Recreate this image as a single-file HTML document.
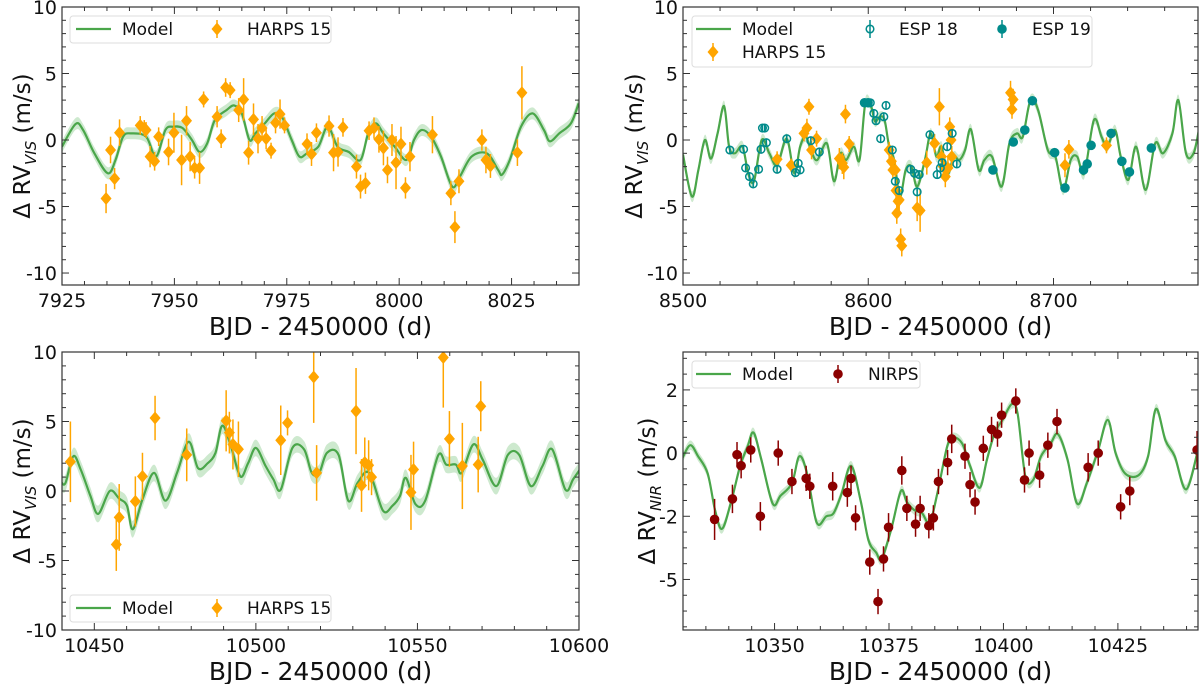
<!DOCTYPE html>
<html><head><meta charset="utf-8"><style>
html,body{margin:0;padding:0;background:#fff;}
svg{display:block;font-family:"DejaVu Sans","Liberation Sans",sans-serif;}
</style></head><body>
<svg id="fig" width="1200" height="684" viewBox="0 0 1200 684" xmlns="http://www.w3.org/2000/svg"></svg>
<script>
// ---------- Panel 1 data ----------
const p1ModelT=[7925,7928,7929.7,7932.2,7935.2,7936.9,7938.6,7940.3,7943.7,7945.9,7948,7949.7,7951.8,7953.9,7955.6,7957.3,7959,7961.6,7963.3,7965,7966.7,7968,7970.1,7972.2,7973.9,7976.1,7977.8,7979.5,7982,7984.1,7986.3,7988.8,7991.4,7993.1,7994.8,7996.5,7999,8001.6,8003.3,8005,8007.1,8009.3,8011.8,8013.5,8016.1,8019.5,8022,8022.9,8024.6,8027.1,8029.7,8032.2,8033.5,8035.6,8038.2,8039.9];
const p1ModelV=[-0.5,1.2,0.75,-1,-2.5,-1.5,0.25,0.5,0.25,-1.25,0.75,1,0.9,0,-0.9,-0.25,1.5,2.25,2.6,2,0,0.5,1.25,2,1.75,0,-1.25,-1,-0.5,1,-0.5,-0.9,-1.5,0.5,1.25,0.5,-0.5,-1.5,0,0.75,0.25,-1.25,-3.5,-2.75,-1.25,-1,-2.25,-2.6,-1.5,1,2,0.75,-0.1,0.5,1.25,2.75];
const p1HarpsT=[7934.8,7935.8,7936.7,7937.8,7942.4,7943.3,7943.7,7944.6,7945.6,7946.5,7948.7,7949.9,7951.6,7952.7,7953.5,7954.5,7955.6,7956.5,7959.5,7960.4,7961.4,7962.4,7964.3,7965.4,7966.5,7967.6,7968.6,7969.5,7970.4,7971.5,7972.5,7973.5,7974.5,7979.5,7980.5,7981.6,7984.4,7985.4,7986.4,7987.5,7990.5,7991.4,7992.5,7993.3,7994.4,7995.5,7996.5,7997.4,7998.4,7999.3,8000.4,8001.4,8002.4,8007.4,8011.5,8012.4,8013.3,8018.4,8019.3,8020.3,8026.3,8027.3];
const p1HarpsV=[-4.4,-0.75,-2.9,0.55,1.1,0.9,0.75,-1.25,-1.6,0.25,-0.9,0.55,-1.5,1.45,-1.25,-2.1,-2.1,3.05,1.75,0.1,3.95,3.75,2.25,3.05,-0.95,1.55,0.1,0.9,0.1,-0.8,1.3,1.95,1.1,-0.3,-1.05,0.55,1.05,-0.95,-0.9,0.95,-2,-3.5,-3.25,0.7,0.9,0.05,-0.6,-2.25,0,-1.7,-0.3,-3.6,-1.25,0.4,-4,-6.55,-3.1,0,-1.5,-1.95,-0.95,3.55];
const p1HarpsE=[1.1,1,0.8,1,0.7,0.6,0.6,0.8,0.7,0.7,1,1.5,1.9,1.1,1.1,0.8,1.2,0.6,0.8,0.7,0.7,0.6,0.9,1.6,0.9,1.2,1.1,0.9,0.8,0.6,0.8,1.1,0.6,0.8,0.9,0.7,0.8,1.4,1.1,0.7,0.9,0.9,0.8,0.7,0.8,1,1.3,1,1.2,2,1.3,0.8,1.1,1.4,0.9,1.2,0.9,0.8,1,0.9,1,2];
// ---------- Panel 2 data ----------
const p2ModelT=[8500,8504.8,8508.3,8511.8,8515.1,8518.7,8522.2,8524.9,8528,8532.1,8535.2,8538.3,8542.5,8546.6,8550.8,8556,8560.1,8563.2,8566.3,8569.4,8572.5,8577.7,8581.5,8585,8588.1,8592.2,8595.3,8598.4,8601.6,8603.6,8606.3,8608.8,8611.3,8614,8617.1,8620.2,8623.3,8626.4,8630.6,8633.7,8636.8,8639.5,8643,8646.1,8649.2,8652.3,8655.4,8659.6,8662.7,8666.8,8672,8676.2,8680.3,8683.4,8687.6,8691.7,8696.9,8701,8705.2,8709.3,8712.8,8716.6,8721.8,8725.9,8729,8733.2,8736.3,8740.4,8744.6,8749.7,8754.9,8759.1,8764.2,8767.4,8771.5,8775.6,8778.8];
const p2ModelV=[-1.1,-4.25,-2.25,0,-1.4,0.5,2.55,-0.5,-1,-0.5,-2.5,-3.1,0,-1,-1.9,0.1,-2.5,-0.5,0.25,-0.9,-1.5,-0.25,-3.1,-1,-1.5,-0.5,-1.5,2.75,2.5,1.4,1.75,1.5,-0.5,-1.5,-4.25,-2.25,-2,-3.5,-1.5,0.5,-1.25,-0.5,-2.5,-1.25,-1.5,-0.75,0.8,-2.25,-1.5,-1.25,-3.5,-0.25,0.5,0.25,3,2.25,-0.75,-1.25,-3.75,-1.5,-1.25,-2.5,1.5,0.25,-0.5,0.75,-1.25,-3,-0.5,-3.75,-0.25,-1,0.5,3,-1,-1,1];
const p2HarpsT=[8550.8,8558.4,8565.3,8566.9,8568,8569.4,8572.1,8584.4,8586,8586.8,8587.7,8589.7,8611.3,8612.5,8613.3,8614.6,8615,8616.1,8615.4,8617.5,8618.1,8616.7,8626.4,8628,8631.6,8635.8,8638.4,8639.5,8640.5,8641.6,8643,8644,8644.7,8645.1,8676.8,8678.2,8677.6,8706.2,8708.3,8728.6];
const p2HarpsV=[-1.45,-1.9,0.5,0.9,2.5,-0.75,0.1,-1.4,-1.75,-2.05,1.95,-0.3,-0.75,-1.6,-2.25,-2.25,-3.8,-4.6,-5.5,-7.45,-7.95,-4.5,-5.1,-5.3,-1.7,-0.25,2.5,-1.25,-2,-2.75,-2.1,1,0,-1.25,3.55,3.05,2.3,-1.9,-0.7,-0.4];
const p2HarpsE=[0.6,0.5,0.6,0.7,0.6,0.7,0.6,0.8,0.8,0.9,0.7,0.6,0.6,0.6,0.7,0.7,0.8,0.8,0.8,0.8,0.8,0.8,1,1.6,0.9,0.7,1.4,0.9,0.8,0.8,0.9,0.7,0.7,0.8,0.9,0.8,0.7,0.9,0.7,0.6];
const p2Esp18T=[8525.3,8532.7,8533.8,8535.9,8537.9,8540.8,8542.1,8542.9,8544.1,8545,8550.8,8556,8560.7,8562.2,8563.2,8569,8573.6,8601.1,8603,8604.2,8606.7,8608.4,8609.6,8613,8614.6,8616.7,8622.9,8625,8626.4,8627.5,8633.3,8637.2,8638.9,8639.9,8642.6,8645.3,8647.8];
const p2Esp18V=[-0.75,-0.7,-2.1,-2.75,-3.3,-2.2,-0.7,0.9,0.9,-0.2,-2.2,0.1,-2.45,-1.75,-2.25,-0.05,-0.9,2.8,2,1.45,0.1,1.75,2.6,-0.75,-3.1,-3.8,-2.2,-2.5,-3.9,-2.6,0.4,-2.6,-2.1,-1.7,-0.5,0.5,-1.8];
const p2Esp19T=[8598,8599.9,8667.3,8678.3,8684.5,8688.6,8700.6,8706.2,8716.2,8718.2,8720.3,8731.1,8736.9,8741,8752.8];
const p2Esp19V=[2.8,2.8,-2.25,-0.15,0.75,2.95,-0.95,-3.6,-2.25,-1.8,-0.4,0.5,-1.6,-2.4,-0.6];
// ---------- Panel 3 data ----------
const p3ModelT=[10439.9,10441.1,10443.5,10445.8,10448.8,10451.2,10454.8,10457.7,10460.1,10461.9,10464.9,10468.5,10472,10475.6,10479.2,10482.1,10485.1,10487.5,10489.6,10492.3,10495.2,10497.6,10500,10503,10505.4,10507.7,10511.3,10514.9,10517.3,10519.6,10522,10525.6,10528.6,10531.5,10535.1,10539.3,10542.3,10544.6,10546.4,10549.4,10552.4,10556.5,10558.9,10561.9,10563.7,10567.3,10570.2,10574.4,10578,10581.5,10585.1,10588.7,10591.7,10595.8,10598.2,10600.6];
const p3ModelV=[0.6,0.6,2.5,1.55,-0.35,-1.65,0,-0.55,-1.05,-2.75,-0.6,1.3,-0.7,1.3,3.55,1.65,2,2.75,4.7,3.2,1.05,2,3.1,1.8,0.85,0.1,3.1,3,1.3,1.3,2.75,2.6,-0.7,0.6,1.3,-1.4,-1.05,-0.35,0.95,-0.95,-0.7,2.6,1.9,1.9,1.3,3.35,2.25,0.35,2.6,2.6,0.35,1.8,3,0.1,0.85,1.65];
const p3HarpsT=[10442.6,10456.8,10457.7,10462.7,10464.9,10468.8,10478.6,10490.8,10491.8,10492.9,10494.6,10507.7,10509.8,10517.9,10518.8,10531,10532.7,10533.7,10534.9,10535.8,10548,10548.8,10558,10559.9,10563.9,10568.8,10569.6];
const p3HarpsV=[2.1,-3.85,-1.9,-0.75,1.05,5.25,2.6,5.05,4.2,3.35,3,3.65,4.9,8.2,1.3,5.75,0.4,2.05,1.85,1,-0.1,1.55,9.6,3.75,1.8,1.9,6.1];
const p3HarpsE=[2.9,1.9,2.4,1.8,1.7,1.6,1.9,2.2,1.5,1.8,2,2.5,0.9,3.3,2,3.1,1.9,1.8,1.8,1.3,2.7,2,3.6,2,3.1,2,1.8];
// ---------- Panel 4 data ----------
const p4ModelT=[10329.9,10331.6,10333.3,10335.4,10337,10338.5,10340.4,10342.5,10344.1,10345.4,10347.1,10349.6,10351.3,10353.8,10355.4,10357.1,10359.2,10361.3,10362.9,10364.6,10366.7,10368.8,10370.5,10372.2,10373.4,10375.5,10377.6,10378.9,10380.5,10382.2,10383.9,10385.6,10387.7,10389,10391,10392.7,10394.8,10396.4,10398.1,10399.8,10401.8,10403.1,10404.8,10406.5,10408.2,10410.3,10411.9,10414,10416.1,10418.2,10420.7,10422.8,10424.5,10426.6,10429.5,10431.6,10433.3,10435.4,10437.4,10439.9,10442.5];
const p4ModelV=[-0.15,0.25,-0.1,-0.65,-1.8,-2.4,-1.6,-0.4,0.2,0.65,-0.2,-1.6,-1.35,-0.95,-0.1,-0.65,-2.2,-2,-1.9,-1.3,-0.4,-1.5,-2.75,-3.15,-3.35,-2.4,-1.2,-1.55,-1.8,-1.9,-2.2,-1.25,0.2,0.5,0.3,-0.4,-1.1,-0.2,0.65,1.05,1.55,1.25,-0.75,-0.85,-0.1,0.3,0.6,-0.2,-1.6,-0.95,0.1,1.05,0,-0.65,-0.7,-0.1,1.4,0.4,-0.1,-1.15,0.1];
const p4NirpsT=[10336.9,10340.8,10341.8,10342.7,10344.8,10346.9,10350.8,10353.8,10356.9,10357.7,10362.7,10365.9,10366.7,10367.7,10370.8,10372.6,10373.8,10374.9,10377.8,10378.9,10380.8,10381.8,10383.7,10384.7,10385.8,10387.8,10388.7,10391.6,10392.7,10393.8,10395.6,10397.4,10398.7,10399.6,10402.7,10404.6,10405.6,10407.9,10409.7,10411.7,10418.5,10420.7,10425.6,10427.6,10442.3];
const p4NirpsV=[-2.1,-1.45,-0.05,-0.4,0.1,-2,0,-0.9,-0.8,-1.05,-1.05,-1.25,-0.8,-2.05,-3.45,-4.7,-3.35,-2.35,-0.55,-1.75,-2.25,-1.75,-2.3,-2.05,-0.9,-0.3,0.45,-0.1,-1,-1.55,0.15,0.75,0.6,1.2,1.65,-0.85,0,-0.7,0.25,1,-0.45,0,-1.7,-1.2,0.1];
const p4NirpsE=[0.65,0.45,0.4,0.4,0.4,0.45,0.4,0.4,0.4,0.4,0.45,0.45,0.4,0.4,0.4,0.4,0.4,0.45,0.45,0.4,0.4,0.4,0.4,0.4,0.4,0.4,0.45,0.4,0.4,0.4,0.4,0.4,0.4,0.4,0.4,0.4,0.4,0.4,0.4,0.4,0.45,0.4,0.4,0.45,0.6];
// ---------- Tick labels ----------
const p1XTicks=[7925,7950,7975,8000,8025];
const p2XTicks=[8500,8600,8700];
const p3XTicks=[10450,10500,10550,10600];
const p4XTicks=[10350,10375,10400,10425];
const visYTicks=[-10,-5,0,5,10];
const p4YTicks=[2,0,-2,-4];
const p4YTickLabels=["2","0","-2","-5"];

const NS="http://www.w3.org/2000/svg";
const svg=document.getElementById('fig');
const GREEN="#4aa64a", BAND="rgba(76,175,80,0.28)", ORANGE="#ffa500", TEAL="#008b8b", DRED="#8b0000";
function mk(tag,attrs,parent){const e=document.createElementNS(NS,tag);for(const k in attrs)e.setAttribute(k,attrs[k]);(parent||svg).appendChild(e);return e;}
function smooth(pts){let d="M"+pts[0][0].toFixed(1)+","+pts[0][1].toFixed(1);
 for(let i=0;i<pts.length-1;i++){const p0=pts[Math.max(0,i-1)],p1=pts[i],p2=pts[i+1],p3=pts[Math.min(pts.length-1,i+2)];
 const c1=[p1[0]+(p2[0]-p0[0])/6,p1[1]+(p2[1]-p0[1])/6],c2=[p2[0]-(p3[0]-p1[0])/6,p2[1]-(p3[1]-p1[1])/6];
 d+="C"+c1[0].toFixed(1)+","+c1[1].toFixed(1)+" "+c2[0].toFixed(1)+","+c2[1].toFixed(1)+" "+p2[0].toFixed(1)+","+p2[1].toFixed(1);}return d;}

function panel(cfg){
 const g=mk('g',{});
 
 
 const sx=v=>cfg.x0+(v-cfg.xmin)/(cfg.xmax-cfg.xmin)*(cfg.x1-cfg.x0);
 const sy=v=>cfg.y1-(v-cfg.ymin)/(cfg.ymax-cfg.ymin)*(cfg.y1-cfg.y0);
 const cid='clip-'+cfg.name;
 const cp=mk('clipPath',{id:cid},g);mk('rect',{x:cfg.x0,y:cfg.y0,width:cfg.x1-cfg.x0,height:cfg.y1-cfg.y0},cp);
 const plot=mk('g',{'clip-path':'url(#'+cid+')'},g);
 
 
 // model band + line
 const up=cfg.mt.map((t,i)=>[sx(t),sy(cfg.mv[i]+cfg.bw)]);
 const lo=cfg.mt.map((t,i)=>[sx(t),sy(cfg.mv[i]-cfg.bw)]).reverse();
 const band=mk('path',{d:smooth(up)+"L"+smooth(lo).slice(1)+"Z",fill:BAND,stroke:'none'},plot);
 
 
 const line=mk('path',{d:smooth(cfg.mt.map((t,i)=>[sx(t),sy(cfg.mv[i])])),fill:'none',stroke:GREEN,'stroke-width':2.2},plot);
 
 
 // series
 cfg.series.forEach(s=>{
  s.t.forEach((t,i)=>{
   const x=sx(t),y=sy(s.v[i]),e=Array.isArray(s.e)?s.e[i]:s.e;
   const pg=mk('g',{},plot);
   
   
   mk('line',{x1:x,x2:x,y1:sy(s.v[i]+e),y2:sy(s.v[i]-e),stroke:s.color,'stroke-width':1.5},pg);
   drawMarker(pg,s.marker,x,y,s.color);
  });
 });
 // frame
 const fr=mk('rect',{x:cfg.x0,y:cfg.y0,width:cfg.x1-cfg.x0,height:cfg.y1-cfg.y0,fill:'none',stroke:'#333','stroke-width':1.2},g);
 
 
 // ticks
 const tk=mk('g',{stroke:'#333','stroke-width':1},g);
 for(let v=Math.ceil(cfg.xmin/cfg.xminor)*cfg.xminor;v<=cfg.xmax+1e-9;v+=cfg.xminor){const x=sx(v),L=cfg.xt.includes(v)?7:4;
  mk('line',{x1:x,x2:x,y1:cfg.y1,y2:cfg.y1-L},tk);mk('line',{x1:x,x2:x,y1:cfg.y0,y2:cfg.y0+L},tk);}
 for(let v=Math.ceil(cfg.ymin/cfg.yminor)*cfg.yminor;v<=cfg.ymax+1e-9;v+=cfg.yminor){const y=sy(v),L=cfg.yt.some(a=>Math.abs(a-v)<1e-6)?7:4;
  mk('line',{x1:cfg.x0,x2:cfg.x0+L,y1:y,y2:y},tk);mk('line',{x1:cfg.x1,x2:cfg.x1-L,y1:y,y2:y},tk);}
 cfg.xt.forEach(v=>{const t=mk('text',{x:sx(v),y:cfg.y1+22,'font-size':19,'text-anchor':'middle',fill:'#111'},g);t.textContent=v;
  });
 cfg.yt.forEach((v,i)=>{const t=mk('text',{x:cfg.x0-5,y:sy(v)+7,'font-size':19,'text-anchor':'end',fill:'#111'},g);t.textContent=cfg.ytl?cfg.ytl[i]:v;
  });
 const xt=mk('text',{x:(cfg.x0+cfg.x1)/2,y:cfg.y1+50,'font-size':25,'text-anchor':'middle',fill:'#111'},g);xt.textContent="BJD - 2450000 (d)";
 
 const yt=mk('text',{x:0,y:0,'font-size':23,'text-anchor':'middle',fill:'#111',transform:'translate('+cfg.ylx+','+((cfg.y0+cfg.y1)/2)+') rotate(-90)'},g);
 
 yt.innerHTML='Δ RV<tspan font-size="15" font-style="italic" dy="6">'+cfg.sub+'</tspan><tspan dy="-6"> (m/s)</tspan>';
 // legend
 const L=cfg.legend;
 const lg=mk('g',{},g);
 
 
 mk('rect',{x:L.x,y:L.y,width:L.w,height:L.h,rx:3,fill:'#fff',stroke:'#ddd','stroke-width':1},lg);
 L.items.forEach(it=>{
  const ig=mk('g',{},lg);
  
  
  if(it.type==='line'){mk('line',{x1:it.x,x2:it.x+35,y1:it.y,y2:it.y,stroke:GREEN,'stroke-width':2.2},ig);}
  else{mk('line',{x1:it.x,x2:it.x,y1:it.y-9,y2:it.y+9,stroke:it.color,'stroke-width':1.5},ig);drawMarker(ig,it.type,it.x,it.y,it.color);}
  const t=mk('text',{x:it.tx,y:it.y+6,'font-size':17,fill:'#111'},ig);t.textContent=it.label;
 });
}
function drawMarker(p,m,x,y,c){
 if(m==='diamond')mk('path',{d:`M${x},${y-6.5}L${x+5.5},${y}L${x},${y+6.5}L${x-5.5},${y}Z`,fill:c},p);
 else if(m==='open')mk('circle',{cx:x,cy:y,r:3.8,fill:'none',stroke:c,'stroke-width':1.5},p);
 else mk('circle',{cx:x,cy:y,r:4.8,fill:c},p);
}

panel({name:'panel-harps-2017',x0:62,x1:579,y0:7,y1:285,xmin:7925,xmax:8040,ymin:-10.9,ymax:10,xt:p1XTicks,xminor:5,yt:visYTicks,yminor:1,ylx:30,sub:'VIS',
 mt:p1ModelT,mv:p1ModelV,bw:0.45,
 series:[{name:'harps15',t:p1HarpsT,v:p1HarpsV,e:p1HarpsE,color:ORANGE,marker:'diamond'}],
 legend:{x:70,y:16,w:261,h:27,items:[{type:'line',x:76,y:29,tx:122,label:'Model'},{type:'diamond',x:217,y:29,tx:247,label:'HARPS 15',color:ORANGE}]}});
panel({name:'panel-espresso-2019',x0:683,x1:1198,y0:7,y1:285,xmin:8500,xmax:8778,ymin:-10.9,ymax:10,xt:p2XTicks,xminor:20,yt:visYTicks,yminor:1,ylx:642,sub:'VIS',
 mt:p2ModelT,mv:p2ModelV,bw:0.4,
 series:[{name:'harps15',t:p2HarpsT,v:p2HarpsV,e:p2HarpsE,color:ORANGE,marker:'diamond'},
  {name:'esp18',t:p2Esp18T,v:p2Esp18V,e:0.3,color:TEAL,marker:'open'},
  {name:'esp19',t:p2Esp19T,v:p2Esp19V,e:0.3,color:TEAL,marker:'filled'}],
 legend:{x:692,y:16,w:400,h:51,items:[{type:'line',x:696,y:29,tx:742,label:'Model'},{type:'open',x:870,y:29,tx:899,label:'ESP 18',color:TEAL},{type:'filled',x:1002,y:29,tx:1032,label:'ESP 19',color:TEAL},{type:'diamond',x:713,y:52,tx:742,label:'HARPS 15',color:ORANGE}]}});
panel({name:'panel-harps-2024',x0:62,x1:579,y0:352,y1:630,xmin:10440,xmax:10600,ymin:-10,ymax:10,xt:p3XTicks,xminor:10,yt:visYTicks,yminor:1,ylx:30,sub:'VIS',
 mt:p3ModelT,mv:p3ModelV,bw:0.6,
 series:[{name:'harps15',t:p3HarpsT,v:p3HarpsV,e:p3HarpsE,color:ORANGE,marker:'diamond'}],
 legend:{x:70,y:595,w:261,h:27,items:[{type:'line',x:76,y:608,tx:122,label:'Model'},{type:'diamond',x:217,y:608,tx:247,label:'HARPS 15',color:ORANGE}]}});
panel({name:'panel-nirps',x0:683,x1:1198,y0:352,y1:630,xmin:10330,xmax:10442.5,ymin:-5.6,ymax:3.2,xt:p4XTicks,xminor:5,yt:p4YTicks,ytl:p4YTickLabels,yminor:0.5,ylx:655,sub:'NIR',
 mt:p4ModelT,mv:p4ModelV,bw:0.15,
 series:[{name:'nirps',t:p4NirpsT,v:p4NirpsV,e:p4NirpsE,color:DRED,marker:'filled'}],
 legend:{x:692,y:361,w:228,h:27,items:[{type:'line',x:696,y:374,tx:742,label:'Model'},{type:'filled',x:838,y:374,tx:868,label:'NIRPS',color:DRED}]}});
</script>
</body></html>
